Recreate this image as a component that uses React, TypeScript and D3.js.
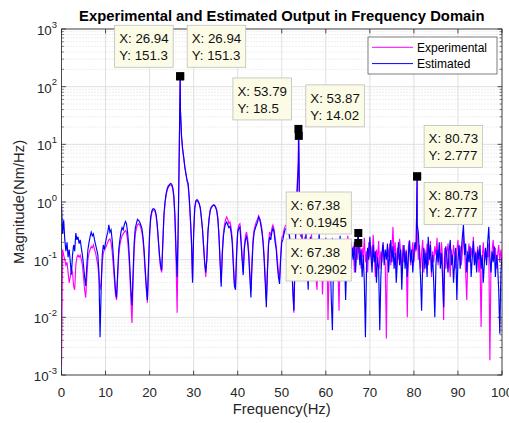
import React from "react";
import * as d3 from "d3";

const W = 509;
const H = 423;
const FONT = "'Liberation Sans', Arial, Helvetica, sans-serif";

// frequency grid of the FFT bins (Hz)
const FREQ_STEP = 0.25;

// Experimental magnitude (Nm/Hz), one value per bin from 0 to 100 Hz
const EXPERIMENTAL = [
  0.0014, 0.15, 0.12, 0.1, 0.08, 0.09, 0.06, 0.04, 0.05, 0.07, 0.06, 0.035, 0.03, 0.08, 0.11, 0.12, 0.11, 0.12, 0.1, 0.08,
  0.05, 0.03, 0.022, 0.05, 0.1, 0.13, 0.15, 0.17, 0.16, 0.18, 0.15, 0.13, 0.1, 0.08, 0.05, 0.03, 0.04, 0.09, 0.13, 0.15,
  0.16, 0.18, 0.2, 0.22, 0.23, 0.2, 0.14, 0.08, 0.045, 0.025, 0.02, 0.05, 0.12, 0.18, 0.22, 0.26, 0.28, 0.3, 0.32, 0.3,
  0.22, 0.13, 0.06, 0.02, 0.008, 0.04, 0.15, 0.28, 0.35, 0.4, 0.42, 0.4, 0.36, 0.3, 0.22, 0.12, 0.06, 0.03, 0.018, 0.07,
  0.25, 0.5, 0.65, 0.72, 0.72, 0.68, 0.55, 0.36, 0.2, 0.11, 0.07, 0.06, 0.18, 0.55, 0.95, 1.3, 1.6, 1.8, 1.9, 2.0,
  1.95, 1.7, 1.2, 0.5, 0.1, 0.012, 0.35, 9, 38, 13, 8, 5.6, 4.1, 3, 2.3, 1.9, 1.1, 0.5, 0.2, 0.045,
  0.28, 0.75, 1.0, 1.05, 1.0, 0.92, 0.78, 0.52, 0.33, 0.17, 0.085, 0.05, 0.12, 0.32, 0.52, 0.72, 0.82, 0.86, 0.9, 0.88,
  0.82, 0.72, 0.52, 0.27, 0.1, 0.04, 0.14, 0.28, 0.4, 0.5, 0.55, 0.5, 0.42, 0.45, 0.36, 0.24, 0.1, 0.04, 0.035, 0.14,
  0.32, 0.4, 0.42, 0.25, 0.12, 0.06, 0.17, 0.26, 0.3, 0.24, 0.14, 0.06, 0.03, 0.1, 0.24, 0.34, 0.4, 0.46, 0.5, 0.58,
  0.52, 0.44, 0.34, 0.22, 0.12, 0.05, 0.02, 0.07, 0.2, 0.3, 0.26, 0.35, 0.4, 0.34, 0.24, 0.17, 0.1, 0.06, 0.045, 0.12,
  0.24, 0.26, 0.33, 0.38, 0.4, 0.34, 0.36, 0.28, 0.17, 0.09, 0.035, 0.012, 0.09, 0.6, 2, 5, 1.0, 0.25,
  0.3, 0.12, 0.18, 0.25, 0.1, 0.16, 0.07, 0.2, 0.13, 0.28, 0.09, 0.17, 0.11, 0.05, 0.03, 0.14, 0.22, 0.08, 0.15, 0.025,
  0.09, 0.18, 0.12, 0.22, 0.009, 0.07, 0.16, 0.1, 0.24, 0.13, 0.06, 0.19, 0.11, 0.08, 0.013, 0.12, 0.2, 0.09, 0.15, 0.07,
  0.18, 0.1, 0.26, 0.14, 0.08, 0.2, 0.12, 0.17, 0.06, 0.15, 0.22, 0.1, 0.13, 0.19, 0.07, 0.16, 0.11, 0.24, 0.09, 0.14,
  0.06, 0.2, 0.11, 0.17, 0.08, 0.27, 0.13, 0.05, 0.15, 0.1, 0.21, 0.07, 0.14, 0.09, 0.18, 0.12, 0.08, 0.0043, 0.16, 0.11,
  0.19, 0.08, 0.14, 0.37, 0.12, 0.2, 0.07, 0.16, 0.1, 0.23, 0.13, 0.06, 0.18, 0.09, 0.11, 0.15, 0.01, 0.17, 0.22, 0.08,
  0.12, 0.2, 0.09, 0.16, 0.14, 0.35, 0.1, 0.18, 0.07, 0.13, 0.22, 0.06, 0.15, 0.1, 0.19, 0.08, 0.12, 0.21, 0.05, 0.14,
  0.09, 0.17, 0.12, 0.24, 0.08, 0.15, 0.1, 0.2, 0.11, 0.009, 0.16, 0.07, 0.13, 0.19, 0.1, 0.05, 0.15, 0.09, 0.18, 0.12,
  0.07, 0.14, 0.22, 0.1, 0.17, 0.08, 0.13, 0.28, 0.15, 0.06, 0.02, 0.12, 0.19, 0.09, 0.16, 0.11, 0.25, 0.08, 0.14, 0.1,
  0.17, 0.06, 0.12, 0.0068, 0.1, 0.2, 0.09, 0.15, 0.13, 0.11, 0.19, 0.0018, 0.08, 0.14, 0.22, 0.1, 0.16, 0.07, 0.12, 0.18,
  0.09, 0.15, 0.1,
];

// Estimated magnitude (Nm/Hz), same bins
const ESTIMATED = [
  0.9, 0.28, 0.48, 0.22, 0.14, 0.2, 0.11, 0.15, 0.09, 0.055, 0.12, 0.18, 0.14, 0.29, 0.22, 0.25, 0.19, 0.22, 0.16, 0.12,
  0.08, 0.05, 0.035, 0.08, 0.15, 0.2, 0.25, 0.3, 0.26, 0.28, 0.22, 0.18, 0.15, 0.12, 0.06, 0.0045, 0.03, 0.12, 0.18, 0.15,
  0.2, 0.25, 0.3, 0.4, 0.3, 0.33, 0.22, 0.12, 0.06, 0.03, 0.022, 0.06, 0.15, 0.22, 0.3, 0.36, 0.33, 0.4, 0.46, 0.42,
  0.3, 0.18, 0.08, 0.03, 0.016, 0.06, 0.2, 0.35, 0.42, 0.5, 0.48, 0.45, 0.4, 0.35, 0.25, 0.15, 0.07, 0.035, 0.02, 0.08,
  0.3, 0.55, 0.7, 0.76, 0.76, 0.72, 0.6, 0.4, 0.22, 0.12, 0.08, 0.066, 0.2, 0.6, 1.0, 1.4, 1.7, 1.9, 2.0, 2.1,
  2.05, 1.8, 1.3, 0.6, 0.15, 0.05, 0.4, 10, 40, 14, 8.4, 6, 4, 3.1, 2.4, 2.1, 1.2, 0.55, 0.22, 0.04,
  0.3, 0.8, 1.05, 1.1, 1.05, 0.95, 0.8, 0.55, 0.35, 0.18, 0.09, 0.06, 0.1, 0.3, 0.5, 0.7, 0.8, 0.85, 0.88, 0.87,
  0.8, 0.7, 0.5, 0.25, 0.09, 0.034, 0.12, 0.25, 0.35, 0.42, 0.45, 0.4, 0.36, 0.38, 0.3, 0.2, 0.08, 0.035, 0.03, 0.12,
  0.3, 0.35, 0.37, 0.2, 0.1, 0.054, 0.15, 0.22, 0.25, 0.2, 0.12, 0.05, 0.022, 0.08, 0.2, 0.3, 0.35, 0.4, 0.45, 0.55,
  0.5, 0.4, 0.3, 0.2, 0.1, 0.04, 0.015, 0.06, 0.18, 0.25, 0.22, 0.3, 0.35, 0.3, 0.2, 0.15, 0.08, 0.05, 0.038, 0.1,
  0.2, 0.22, 0.28, 0.33, 0.35, 0.3, 0.32, 0.25, 0.15, 0.08, 0.03, 0.013, 0.08, 0.5, 1.5, 4, 1.2, 0.3,
  0.4, 0.15, 0.22, 0.12, 0.3, 0.08, 0.03, 0.14, 0.25, 0.1, 0.18, 0.07, 0.2, 0.12, 0.05, 0.16, 0.28, 0.09, 0.13, 0.06,
  0.19, 0.11, 0.24, 0.08, 0.15, 0.05, 0.12, 0.02, 0.006, 0.09, 0.21, 0.13, 0.07, 0.17, 0.1, 0.26, 0.08, 0.14, 0.05, 0.11,
  0.02, 0.09, 0.18, 0.12, 0.22, 0.07, 0.16, 0.1, 0.2, 0.06, 0.14, 0.24, 0.17, 0.08, 0.15, 0.05, 0.12, 0.04, 0.0045, 0.08,
  0.16, 0.1, 0.25, 0.12, 0.06, 0.18, 0.09, 0.14, 0.04, 0.11, 0.07, 0.006, 0.05, 0.13, 0.2, 0.08, 0.15, 0.1, 0.19, 0.06,
  0.12, 0.22, 0.09, 0.17, 0.07, 0.13, 0.04, 0.1, 0.2, 0.08, 0.15, 0.03, 0.11, 0.18, 0.07, 0.14, 0.05, 0.12, 0.21, 0.09,
  0.15, 0.06, 0.13, 0.2, 0.15, 0.4, 0.3, 0.12, 0.05, 0.013, 0.09, 0.16, 0.07, 0.13, 0.05, 0.25, 0.1, 0.18, 0.06, 0.12,
  0.04, 0.01, 0.08, 0.15, 0.09, 0.2, 0.07, 0.13, 0.05, 0.015, 0.1, 0.17, 0.11, 0.06, 0.14, 0.22, 0.08, 0.12, 0.04, 0.09,
  0.16, 0.02, 0.1, 0.18, 0.07, 0.14, 0.25, 0.4, 0.12, 0.19, 0.06, 0.14, 0.09, 0.17, 0.05, 0.11, 0.21, 0.08, 0.13, 0.06,
  0.15, 0.1, 0.18, 0.07, 0.12, 0.04, 0.09, 0.16, 0.08, 0.2, 0.37, 0.11, 0.06, 0.14, 0.09, 0.17, 0.05, 0.12, 0.08, 0.03,
  0.0052, 0.06, 0.11,
];

// Peak bins (the data-tip points)
const EXP_PEAK_FREQ = [26.94, 53.79, 67.38, 80.73];
const EXP_PEAK_VAL = [151.3, 18.5, 0.1945, 2.777];
const EST_PEAK_FREQ = [26.94, 53.87, 67.38, 80.73];
const EST_PEAK_VAL = [151.3, 14.02, 0.2902, 2.777];

// Data tips: series, peak index, horizontal side, vertical side
const TIP_SERIES = ["exp", "est", "exp", "est", "exp", "est", "exp", "est"];
const TIP_INDEX = [0, 0, 1, 1, 2, 2, 3, 3];
const TIP_HSIDE = ["left", "right", "left", "right", "left", "left", "right", "right"];
const TIP_VSIDE = ["above", "above", "above", "above", "above", "below", "above", "below"];

const X_TICKS = [0, 10, 20, 30, 40, 50, 60, 70, 80, 90, 100];
const Y_TICK_EXP = [-3, -2, -1, 0, 1, 2, 3];

const TITLE = "Experimental and Estimated Output in Frequency Domain";
const X_LABEL = "Frequency(Hz)";
const Y_LABEL = "Magnitude(Nm/Hz)";
const SERIES_NAMES = ["Experimental", "Estimated"];
const SERIES_COLORS = ["#ff00ff", "#0000ff"];

const M = { left: 61.5, right: 502, top: 29, bottom: 375 };

function buildSeries(vals: number[], pf: number[], pv: number[]) {
  const pts: [number, number][] = vals.map((v, i) => [i * FREQ_STEP, v]);
  pf.forEach((f, i) => pts.push([f, pv[i]]));
  pts.sort((a, b) => a[0] - b[0]);
  return pts;
}

let ctx: CanvasRenderingContext2D | null = null;
function textWidth(t: string, font: string) {
  if (!ctx) ctx = document.createElement("canvas").getContext("2d");
  if (!ctx) return t.length * 7;
  ctx.font = font;
  return ctx.measureText(t).width;
}

export default function App() {
  const x = d3.scaleLinear().domain([0, 100]).range([M.left, M.right]);
  const y = d3.scaleLog().domain([1e-3, 1e3]).range([M.bottom, M.top]);

  const expPts = buildSeries(EXPERIMENTAL, EXP_PEAK_FREQ, EXP_PEAK_VAL);
  const estPts = buildSeries(ESTIMATED, EST_PEAK_FREQ, EST_PEAK_VAL);
  const line = d3
    .line<[number, number]>()
    .x((d) => x(d[0]))
    .y((d) => y(d[1]));

  const minorVals: number[] = [];
  for (let k = -3; k < 3; k++) for (let m = 2; m <= 9; m++) minorVals.push(m * Math.pow(10, k));

  const axisColor = "#262626";
  const fmt = d3.format(".4~g");
  const tipFontSize = 13.3;
  const tipFont = `${tipFontSize}px 'Liberation Sans', Arial, sans-serif`;

  const tips = TIP_SERIES.map((s, i) => {
    const idx = TIP_INDEX[i];
    const f = s === "exp" ? EXP_PEAK_FREQ[idx] : EST_PEAK_FREQ[idx];
    const v = s === "exp" ? EXP_PEAK_VAL[idx] : EST_PEAK_VAL[idx];
    const mx = x(f);
    const my = y(v);
    const l1 = `X: ${fmt(f)}`;
    const l2 = `Y: ${fmt(v)}`;
    const w = Math.max(textWidth(l1, tipFont), textWidth(l2, tipFont)) + 9;
    const h = 42;
    const x0 = TIP_HSIDE[i] === "left" ? mx - 7 - w : mx + 7;
    const y0 = TIP_VSIDE[i] === "above" ? my - 9 - h : my + 6;
    return { mx, my, l1, l2, w, h, x0, y0 };
  });

  return (
    <svg
      width={W}
      height={H}
      style={{ position: "absolute", left: 0, top: 0, display: "block", background: "#fff" }}
      fontFamily={FONT}
    >
      <defs>
        <clipPath id="plotclip">
          <rect x={M.left} y={M.top} width={M.right - M.left} height={M.bottom - M.top} />
        </clipPath>
      </defs>
      <rect x={0} y={0} width={W} height={H} fill="#fff" />
      {/* minor grid */}
      {minorVals.map((v, i) => (
        <line
          key={"mg" + i}
          x1={M.left}
          x2={M.right}
          y1={y(v)}
          y2={y(v)}
          stroke="#c8c8c8"
          strokeWidth={0.6}
          strokeDasharray="1,2"
        />
      ))}
      {/* major grid */}
      {X_TICKS.map((t) => (
        <line key={"xg" + t} x1={x(t)} x2={x(t)} y1={M.top} y2={M.bottom} stroke="#dfdfdf" strokeWidth={1} />
      ))}
      {Y_TICK_EXP.map((e) => (
        <line
          key={"yg" + e}
          x1={M.left}
          x2={M.right}
          y1={y(Math.pow(10, e))}
          y2={y(Math.pow(10, e))}
          stroke="#dfdfdf"
          strokeWidth={1}
        />
      ))}
      {/* series */}
      <g clipPath="url(#plotclip)">
        <path d={line(expPts) || ""} fill="none" stroke={SERIES_COLORS[0]} strokeWidth={1.15} />
        <path d={line(estPts) || ""} fill="none" stroke={SERIES_COLORS[1]} strokeWidth={1.15} />
      </g>
      {/* axes box */}
      <rect
        x={M.left}
        y={M.top}
        width={M.right - M.left}
        height={M.bottom - M.top}
        fill="none"
        stroke={axisColor}
        strokeWidth={0.8}
      />
      {/* x ticks */}
      {X_TICKS.map((t) => (
        <g key={"xt" + t}>
          <line x1={x(t)} x2={x(t)} y1={M.bottom} y2={M.bottom - 4.4} stroke={axisColor} strokeWidth={0.8} />
          <line x1={x(t)} x2={x(t)} y1={M.top} y2={M.top + 4.4} stroke={axisColor} strokeWidth={0.8} />
          <text x={x(t)} y={396.5} textAnchor="middle" fontSize={13.3} fill={axisColor}>
            {t}
          </text>
        </g>
      ))}
      {/* y ticks */}
      {Y_TICK_EXP.map((e) => {
        const yy = y(Math.pow(10, e));
        return (
          <g key={"yt" + e}>
            <line x1={M.left} x2={M.left + 4.4} y1={yy} y2={yy} stroke={axisColor} strokeWidth={0.8} />
            <line x1={M.right} x2={M.right - 4.4} y1={yy} y2={yy} stroke={axisColor} strokeWidth={0.8} />
            <text x={57} y={yy + 6} textAnchor="end" fontSize={13.3} fill={axisColor}>
              10
              <tspan fontSize={9.5} dy={-7.5}>
                {String(e)}
              </tspan>
            </text>
          </g>
        );
      })}
      {minorVals.map((v, i) => (
        <g key={"ymt" + i}>
          <line x1={M.left} x2={M.left + 2.4} y1={y(v)} y2={y(v)} stroke={axisColor} strokeWidth={0.6} />
          <line x1={M.right} x2={M.right - 2.4} y1={y(v)} y2={y(v)} stroke={axisColor} strokeWidth={0.6} />
        </g>
      ))}
      {/* labels */}
      <text
        x={(M.left + M.right) / 2}
        y={21}
        textAnchor="middle"
        fontSize={14.8}
        fontWeight="bold"
        fill="#000"
      >
        {TITLE}
      </text>
      <text x={(M.left + M.right) / 2} y={414} textAnchor="middle" fontSize={14.8} fill={axisColor}>
        {X_LABEL}
      </text>
      <text
        transform={`translate(24,${(M.top + M.bottom) / 2}) rotate(-90)`}
        textAnchor="middle"
        fontSize={14.8}
        fill={axisColor}
      >
        {Y_LABEL}
      </text>
      {/* legend */}
      <g>
        <rect x={368} y={37} width={129} height={37} fill="#fff" stroke={axisColor} strokeWidth={0.6} />
        {SERIES_NAMES.map((n, i) => (
          <g key={n}>
            <line x1={372} x2={413} y1={47.3 + i * 16.3} y2={47.3 + i * 16.3} stroke={SERIES_COLORS[i]} strokeWidth={1} />
            <text x={417} y={51.5 + i * 16.3} fontSize={12} fill="#000">
              {n}
            </text>
          </g>
        ))}
      </g>
      {/* data tips */}
      {tips.map((t, i) => (
        <g key={"tip" + i}>
          <rect x={t.x0} y={t.y0} width={t.w} height={t.h} fill="#fcfce6" stroke="#bdbdbd" strokeWidth={0.8} />
          <text x={t.x0 + 4.5} y={t.y0 + 18} fontSize={tipFontSize} fill="#111">
            {t.l1}
          </text>
          <text x={t.x0 + 4.5} y={t.y0 + 34.8} fontSize={tipFontSize} fill="#111">
            {t.l2}
          </text>
        </g>
      ))}
      {tips.map((t, i) => (
        <rect key={"mk" + i} x={t.mx - 4} y={t.my - 4} width={8} height={8} fill="#000" />
      ))}
    </svg>
  );
}
